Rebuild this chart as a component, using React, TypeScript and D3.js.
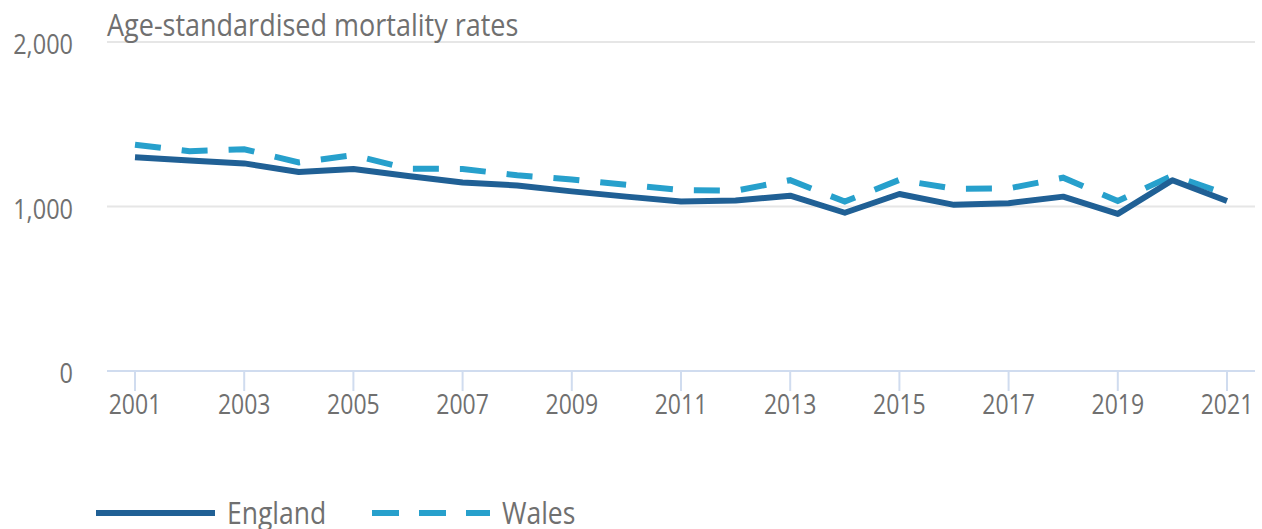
import React from 'react'
import * as d3 from 'd3'

const years = [
  2001, 2002, 2003, 2004, 2005, 2006, 2007, 2008, 2009, 2010, 2011,
  2012, 2013, 2014, 2015, 2016, 2017, 2018, 2019, 2020, 2021,
]
const england = [
  1300, 1280, 1262, 1210, 1228, 1185, 1146, 1128, 1092, 1060, 1031,
  1036, 1066, 962, 1076, 1010, 1020, 1060, 955, 1160, 1033,
]
const wales = [
  1376, 1336, 1348, 1268, 1312, 1230, 1228, 1190, 1164, 1132, 1100,
  1096, 1160, 1030, 1162, 1108, 1110, 1175, 1034, 1188, 1075,
]
const yTicks = [0, 1000, 2000]
const xTicks = [2001, 2003, 2005, 2007, 2009, 2011, 2013, 2015, 2017, 2019, 2021]

const W = 1262
const H = 529
const font = '"Open Sans", sans-serif'
const grey = '#707070'
const darkBlue = '#206095'
const lightBlue = '#27a0cc'
// the source text looks stretched vertically a little
const stretch = 1.17

type LabelProps = {
  x: number
  y: number
  size: number
  anchor?: 'start' | 'middle' | 'end'
  children: React.ReactNode
}

function Label({ x, y, size, anchor = 'start', children }: LabelProps) {
  return (
    <text
      transform={`translate(${x},${y}) scale(1,${stretch})`}
      textAnchor={anchor}
      fontSize={size}
      fill={grey}
    >
      {children}
    </text>
  )
}

export default function App() {
  const x = d3.scaleLinear().domain([2001, 2021]).range([135, 1227])
  const y = d3.scaleLinear().domain([0, 2000]).range([371, 42])

  const line = d3
    .line<number>()
    .x((_, i) => x(years[i]))
    .y((d) => y(d))

  return (
    <svg
      width={W}
      height={H}
      style={{ position: 'absolute', left: 0, top: 0, background: '#fff' }}
      fontFamily={font}
    >
      {/* gridlines */}
      {yTicks
        .filter((t) => t > 0)
        .map((t) => (
          <line key={t} x1={107} x2={1255} y1={y(t)} y2={y(t)} stroke="#e6e6e6" strokeWidth={2} />
        ))}
      {yTicks.map((t) => (
        <Label key={t} x={73} y={y(t) + 12} size={23.5} anchor="end">
          {d3.format(',')(t)}
        </Label>
      ))}

      {/* x axis */}
      <line x1={107} x2={1255} y1={y(0)} y2={y(0)} stroke="#d0dcef" strokeWidth={2} />
      {xTicks.map((t) => (
        <g key={t}>
          <line x1={x(t)} x2={x(t)} y1={y(0)} y2={y(0) + 20} stroke="#d0dcef" strokeWidth={2} />
          <Label x={x(t)} y={414} size={23} anchor="middle">
            {t}
          </Label>
        </g>
      ))}

      {/* title */}
      <Label x={107} y={36} size={27}>
        Age-standardised mortality rates
      </Label>

      {/* series */}
      <path d={line(wales) ?? ''} fill="none" stroke={lightBlue} strokeWidth={6} strokeDasharray="26 21" />
      <path d={line(england) ?? ''} fill="none" stroke={darkBlue} strokeWidth={6} strokeLinejoin="round" />

      {/* legend */}
      <line x1={96} x2={215} y1={513} y2={513} stroke={darkBlue} strokeWidth={6} />
      <Label x={227} y={524} size={26.5}>
        England
      </Label>
      <line x1={372} x2={490} y1={513} y2={513} stroke={lightBlue} strokeWidth={6} strokeDasharray="27 20" />
      <Label x={502} y={524} size={26.5}>
        Wales
      </Label>
    </svg>
  )
}
